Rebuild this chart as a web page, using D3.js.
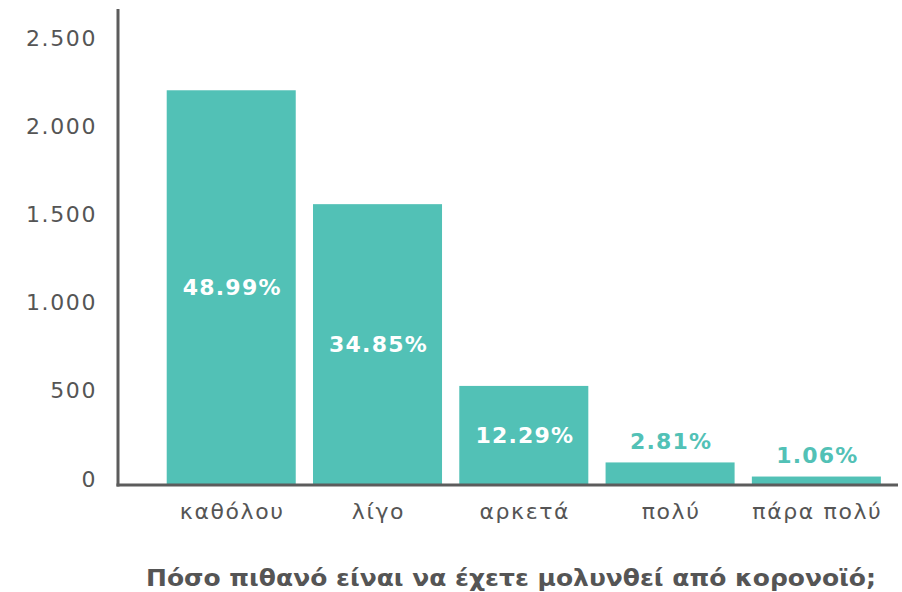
<!DOCTYPE html>
<html>
<head>
<meta charset="utf-8">
<script src="https://cdn.jsdelivr.net/npm/d3@7"></script>
<style>
    body { margin: 0; background: #fff; }
    svg { display: block; }
    .tick-label { font-family: 'DejaVu Sans', sans-serif; font-size: 22px; fill: #555; letter-spacing: 1.6px; }
    .cat-label { font-family: 'DejaVu Sans', sans-serif; font-size: 22px; fill: #555; letter-spacing: 1.6px; }
    .pct { font-family: 'DejaVu Sans', sans-serif; font-weight: bold; font-size: 22px; letter-spacing: 1.2px; }
    .title { font-family: 'DejaVu Sans', sans-serif; font-weight: bold; font-size: 23px; fill: #555; }
</style>
</head>
<body>
<script>

// data
var categories = ['καθόλου', 'λίγο', 'αρκετά', 'πολύ', 'πάρα πολύ'];
var counts = [2239, 1593, 562, 128, 48];
var percents = ['48.99%', '34.85%', '12.29%', '2.81%', '1.06%'];
var yTicks = [0, 500, 1000, 1500, 2000, 2500];
var yTickLabels = ['0', '500', '1.000', '1.500', '2.000', '2.500'];

var title = 'Πόσο πιθανό είναι να έχετε μολυνθεί από κορονοϊό;';
var teal = '#52c1b6',
    axisColor = '#5c5c5c';

var width = 902, height = 592;

var svg = d3.select('body').append('svg')
            .attr('width', width)
            .attr('height', height);

// scales
var x = d3.scaleBand()
            .domain(categories)
            .range([118, 898])
            .paddingInner(0.118)
            .paddingOuter(0.225)
            .align(0.74);

var y = d3.scaleLinear()
            .domain([0, 2700])
            .range([485, 9]);

// bars
svg.selectAll('rect.bar')
    .data(counts)
    .enter().append('rect')
        .attr('class', 'bar')
        .attr('x', function(d, i) { return x(categories[i]); })
        .attr('y', function(d) { return y(d); })
        .attr('width', x.bandwidth())
        .attr('height', function(d) { return y(0) - y(d); })
        .attr('fill', teal);

// percentage labels: inside bar if it is tall enough, otherwise above it
svg.selectAll('text.pct')
    .data(counts)
    .enter().append('text')
        .attr('class', 'pct')
        .attr('text-anchor', 'middle')
        .attr('dominant-baseline', 'central')
        .attr('x', function(d, i) { return x(categories[i]) + x.bandwidth() / 2 + 1; })
        .attr('y', function(d) {
            var h = y(0) - y(d);
            return h > 60 ? y(d) + h / 2 : y(d) - 21;
        })
        .attr('fill', function(d) { return (y(0) - y(d)) > 60 ? '#fff' : teal; })
        .text(function(d, i) { return percents[i]; });

// y tick labels (no tick marks in the original)
svg.selectAll('text.tick-label')
    .data(yTicks)
    .enter().append('text')
        .attr('class', 'tick-label')
        .attr('text-anchor', 'end')
        .attr('dominant-baseline', 'central')
        .attr('x', 97)
        .attr('y', function(d) { return y(d) - 6; })
        .text(function(d, i) { return yTickLabels[i]; });

// category labels
svg.selectAll('text.cat-label')
    .data(categories)
    .enter().append('text')
        .attr('class', 'cat-label')
        .attr('text-anchor', 'middle')
        .attr('dominant-baseline', 'central')
        .attr('x', function(d) { return x(d) + x.bandwidth() / 2 + 1; })
        .attr('y', 511)
        .text(function(d) { return d; });

// axis lines drawn over the bars
svg.append('line')
    .attr('x1', 118).attr('y1', y.range()[1])
    .attr('x2', 118).attr('y2', y(0) + 1.5)
    .attr('stroke', axisColor)
    .attr('stroke-width', 3);
svg.append('line')
    .attr('x1', 116.5).attr('y1', y(0))
    .attr('x2', 898).attr('y2', y(0))
    .attr('stroke', axisColor)
    .attr('stroke-width', 3);

// axis title
svg.append('text')
    .attr('class', 'title')
    .attr('text-anchor', 'middle')
    .attr('dominant-baseline', 'central')
    .attr('x', 511)
    .attr('y', 578)
    .attr('textLength', 730)
    .attr('lengthAdjust', 'spacingAndGlyphs')
    .text(title);

</script>
</body>
</html>
